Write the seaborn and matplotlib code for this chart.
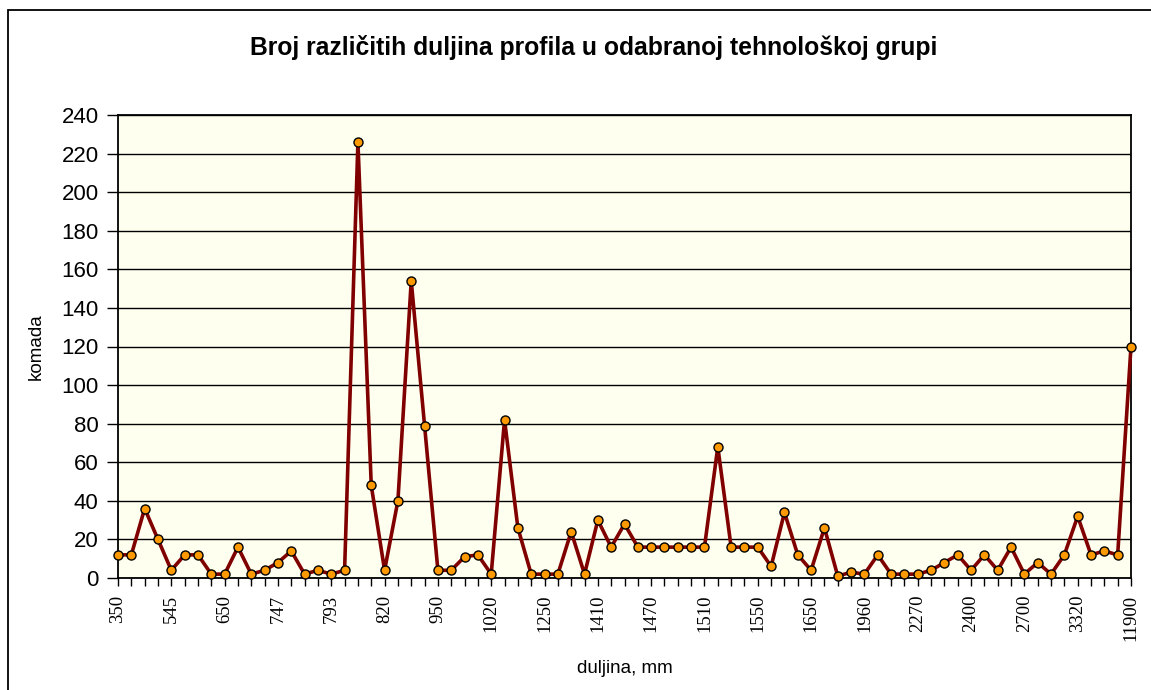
import matplotlib
matplotlib.use("Agg")
import matplotlib.pyplot as plt
import seaborn as sns
import pandas as pd
import numpy as np
from matplotlib.patches import Rectangle

# Number of pieces for each profile length, in order along the category axis
komada = [
    12, 12, 36, 20, 4, 12, 12, 2, 2, 16,
    2, 4, 8, 14, 2, 4, 2, 4, 226, 48,
    4, 40, 154, 79, 4, 4, 11, 12, 2, 82,
    26, 2, 2, 2, 24, 2, 30, 16, 28, 16,
    16, 16, 16, 16, 16, 68, 16, 16, 16, 6,
    34, 12, 4, 26, 1, 3, 2, 12, 2, 2,
    2, 4, 8, 12, 4, 12, 4, 16, 2, 8,
    2, 12, 32, 12, 14, 12, 120,
]

# Lengths shown on the category axis (every fourth category is labelled)
duljine_oznake = [
    "350", "545", "650", "747", "793", "820", "950", "1020", "1250", "1410",
    "1470", "1510", "1550", "1650", "1960", "2270", "2400", "2700", "3320", "11900",
]
label_step = 4

sns.set_theme(style="white")
plt.rcParams["font.family"] = ["Liberation Sans", "DejaVu Sans"]
plt.rcParams.update({
    "text.color": "black",
    "axes.labelcolor": "black",
    "xtick.color": "black",
    "ytick.color": "black",
})

df = pd.DataFrame({"pozicija": np.arange(len(komada)), "komada": komada})

fig = plt.figure(figsize=(11.51, 6.90), dpi=100)
fig.patch.set_facecolor("white")

# chart frame
fig.patches.append(Rectangle((8 / 1151, -0.05), 1.2, (690 - 10) / 690 + 0.05,
                             transform=fig.transFigure, fill=False,
                             edgecolor="black", linewidth=1.3, zorder=0))

ax = fig.add_axes([118 / 1151, (690 - 578) / 690, (1131 - 118) / 1151, (578 - 115) / 690])
ax.set_facecolor("#FFFFF0")

sns.lineplot(data=df, x="pozicija", y="komada", ax=ax, color="#800000",
             linewidth=2.6, marker="o", markersize=6.5,
             markerfacecolor="#FF9900", markeredgecolor="black",
             markeredgewidth=1.0, clip_on=False, zorder=3)

ax.set_xlim(0, len(komada) - 1)
ax.set_ylim(0, 240)
ax.set_yticks(np.arange(0, 241, 20))
ax.yaxis.grid(True, color="black", linewidth=1.0)
ax.xaxis.grid(False)
ax.set_axisbelow(True)

ticks = np.arange(len(komada))
labels = [""] * len(komada)
for k, lab in enumerate(duljine_oznake):
    labels[k * label_step] = lab
ax.set_xticks(ticks)
ax.set_xticklabels(labels, rotation=90, fontfamily="Liberation Serif", fontsize=13.5)
ax.tick_params(axis="x", direction="out", length=6, width=1.0, color="black", pad=6)
ax.tick_params(axis="y", direction="out", length=8, width=1.0, color="black",
               pad=6, labelsize=16)
ax.tick_params(bottom=True, left=True)

for s in ax.spines.values():
    s.set_color("black")
    s.set_linewidth(1.3)

ax.set_xlabel("duljina, mm", fontsize=13.5, labelpad=14)
ax.set_ylabel("komada", fontsize=13.5, labelpad=12)
fig.text(594 / 1151, 1 - 47 / 690, "Broj različitih duljina profila u odabranoj tehnološkoj grupi",
         ha="center", va="center", fontsize=17.8, fontweight="bold")

fig.savefig("out.png", dpi=100)
